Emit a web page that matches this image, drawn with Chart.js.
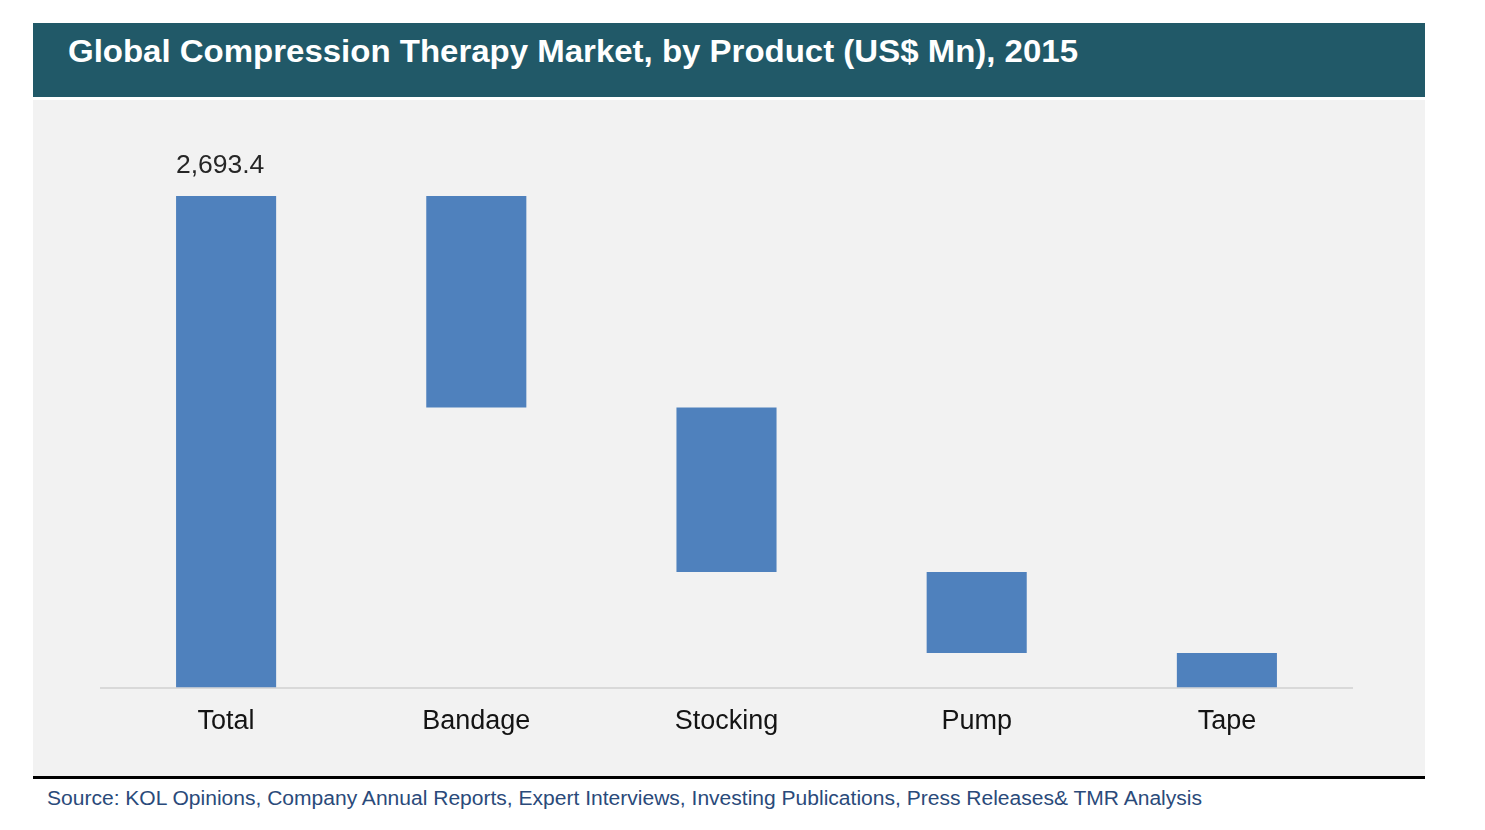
<!DOCTYPE html>
<html>
<head>
<meta charset="utf-8">
<script src="https://cdn.jsdelivr.net/npm/chart.js@4.4.1/dist/chart.umd.min.js"></script>
<style>
  html, body { margin: 0; padding: 0; background: #ffffff; width: 1485px; height: 830px; overflow: hidden; }
  #header { position: absolute; left: 33px; top: 23px; width: 1392px; height: 74px; background: #215968; }
  #title { position: absolute; left: 68px; top: 32.6px; font: bold 32px "Liberation Sans", Arial, sans-serif; color: #ffffff; white-space: nowrap; transform-origin: 0 0; line-height: 36px; }
  #panel { position: absolute; left: 33px; top: 100px; width: 1392px; height: 676px; background: #f2f2f2; }
  #rule { position: absolute; left: 33px; top: 776px; width: 1392px; height: 3px; background: #000000; }
  #source { position: absolute; left: 47px; top: 786px; font: 20px "Liberation Sans", Arial, sans-serif; color: #2a4a7a; white-space: nowrap; transform-origin: 0 0; line-height: 24px; }
  #wrap { position: absolute; left: 33px; top: 100px; width: 1392px; height: 676px; }
</style>
</head>
<body>
<div id="header"></div>
<div id="title">Global Compression Therapy Market, by Product (US$ Mn), 2015</div>
<div id="panel"></div>
<div id="wrap"><canvas id="c" width="1392" height="676"></canvas></div>
<div id="rule"></div>
<div id="source">Source: KOL Opinions, Company Annual Reports, Expert Interviews, Investing Publications, Press Releases&amp; TMR Analysis</div>
<script>
// ---- data ----
const categories = ["Total", "Bandage", "Stocking", "Pump", "Tape"];
const totalValue = 2693.4;
const segmentNames = ["Bandage", "Stocking", "Pump", "Tape"];
const segmentValues = [1159, 901, 444, 189];
const yMax = 3000;

// fit helper for text widths
function fitWidth(id, target) {
  const el = document.getElementById(id);
  const w = el.getBoundingClientRect().width;
  if (w > 0) el.style.transform = 'scaleX(' + (target / w) + ')';
}
fitWidth('title', 1010);
fitWidth('source', 1155);

// waterfall ranges built from the values
const ranges = [[0, totalValue]];
let runningTop = totalValue;
segmentValues.forEach(v => { ranges.push([runningTop - v, runningTop]); runningTop -= v; });

const totalLabel = totalValue.toLocaleString('en-US', { minimumFractionDigits: 1, maximumFractionDigits: 1 });

const labelPlugin = {
  id: 'totalLabel',
  afterDatasetsDraw(chart) {
    const meta = chart.getDatasetMeta(0);
    const bar = meta.data[0];
    const ctx = chart.ctx;
    ctx.save();
    ctx.font = '26.5px "Liberation Sans", Arial, sans-serif';
    ctx.fillStyle = '#262626';
    ctx.textAlign = 'center';
    ctx.textBaseline = 'alphabetic';
    ctx.fillText(totalLabel, bar.x - 6, bar.y - 23);
    ctx.restore();
  }
};

new Chart(document.getElementById('c'), {
  type: 'bar',
  data: {
    labels: categories,
    datasets: [{
      data: ranges,
      backgroundColor: '#4f81bd',
      borderWidth: 0,
      barPercentage: 0.4,
      categoryPercentage: 1.0
    }]
  },
  options: {
    responsive: false,
    animation: false,
    devicePixelRatio: 1,
    layout: { padding: { left: 68, right: 73, top: 40, bottom: 0 } },
    plugins: { legend: { display: false }, tooltip: { enabled: false }, title: { display: false } },
    scales: {
      x: {
        grid: { display: false, drawTicks: false, tickLength: 0 },
        border: { display: true, color: '#d9d9d9', width: 2 },
        ticks: { color: '#141414', padding: 18, font: { family: '"Liberation Sans", Arial, sans-serif', size: 27 } },
        afterFit(scale) { scale.height = 88.5; }
      },
      y: {
        display: false,
        min: 0,
        max: yMax
      }
    }
  },
  plugins: [labelPlugin]
});
</script>
</body>
</html>
